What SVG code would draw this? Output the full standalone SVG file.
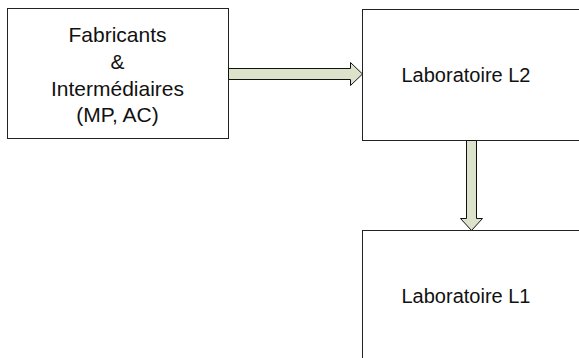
<svg xmlns="http://www.w3.org/2000/svg" width="579" height="358" viewBox="0 0 579 358">
<style>
.box{fill:#ffffff;stroke:#222222;stroke-width:1}
.lbl{font-family:"Liberation Sans",Arial,sans-serif;font-size:21px;fill:#111111;text-anchor:middle}
.lab{font-size:20px}
.arr{fill:#dde2cb;stroke:#111111;stroke-width:1;stroke-linejoin:miter}
</style>
<rect width="579" height="358" fill="#ffffff"/>
<g id="node-fabricants">
<rect class="box" x="7.5" y="8.5" width="221" height="130"/>
<text class="lbl" x="117.5" y="42">Fabricants</text>
<text class="lbl" x="117.5" y="69">&amp;</text>
<text class="lbl" x="117.5" y="96">Intermédiaires</text>
<text class="lbl" x="117.5" y="122">(MP, AC)</text>
</g>
<g id="node-l2">
<rect class="box" x="362.5" y="9.5" width="240" height="131"/>
<text class="lbl lab" x="466" y="82">Laboratoire L2</text>
</g>
<g id="node-l1">
<rect class="box" x="362.5" y="230.5" width="240" height="160"/>
<text class="lbl lab" x="466" y="303">Laboratoire L1</text>
</g>
<g id="connectors">
<polygon class="arr" points="228.5,68.5 350.5,68.5 350.5,62.5 362.5,74 350.5,85.5 350.5,79.5 228.5,79.5"/>
<polygon class="arr" points="466.5,140.5 476.5,140.5 476.5,218.5 482.5,218.5 471.5,230.5 460.5,218.5 466.5,218.5"/>
</g>
</svg>
